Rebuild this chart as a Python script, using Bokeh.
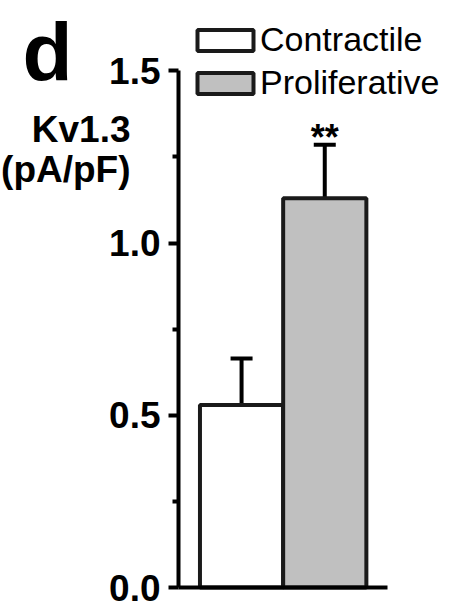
from bokeh.plotting import figure
from bokeh.models import (ColumnDataSource, Range1d, FixedTicker, Whisker, TeeHead,
                          Legend, LegendItem)
from bokeh.core.properties import value
from bokeh.embed import file_html
from bokeh.resources import INLINE

# ---- data ----
groups = ["Contractile", "Proliferative"]
positions = [1, 2]
means = [0.53, 1.13]
sems = [0.135, 0.155]
signif = ["", "**"]
fills = ["#ffffff", "#c0c0c0"]
y_ticks = [0.0, 0.5, 1.0, 1.5]
y_minor = [0.25, 0.75, 1.25]
y_tick_labels = ["0.0", "0.5", "1.0", "1.5"]
panel_letter = "d"
ylabel_lines = ["Kv1.3", "(pA/pF)"]

FONT = "Liberation Sans"
W, H = 450, 613
AXIS_SX, AXIS_SY = 178, 587      # pixel position of the axes' origin
PPX, PPY = 83.2, 344.5           # pixels per data unit
X_AT_AXIS = 0.242                # x value where the y axis sits


def dx(sx):
    return X_AT_AXIS + (sx - AXIS_SX) / PPX


def dy(sy):
    return (AXIS_SY - sy) / PPY


src = ColumnDataSource(dict(
    x=positions, top=means, fill=fills, group=groups, sig=signif,
    upper=[m + s for m, s in zip(means, sems)],
))

p = figure(width=W, height=H, output_backend="svg", toolbar_location=None,
           x_range=Range1d(dx(0), dx(W)), y_range=Range1d(dy(H), dy(0)),
           min_border=0)
p.outline_line_color = None
p.grid.visible = False
p.background_fill_color = "white"
p.border_fill_color = "white"

bars = p.vbar(x="x", top="top", width=1.0, source=src, fill_color="fill",
              line_color="#1a1a1a", line_width=4)

err = Whisker(base="x", lower="top", upper="upper", source=src,
              line_color="black", line_width=4, lower_head=None,
              upper_head=TeeHead(size=22, line_width=4, line_color="black"))
p.add_layout(err)

p.text(x="x", y="upper", text="sig", source=src, text_font=value(FONT),
       text_font_style="bold", text_font_size="36px", text_align="center",
       text_baseline="alphabetic", y_offset=-7, text_color="black")

# panel letter and y-axis title (horizontal, upper left)
p.text(x=[dx(22)], y=[dy(77)], text=[panel_letter], text_font=value(FONT),
       text_font_style="bold", text_font_size="82px", text_align="left",
       text_baseline="alphabetic", y_offset=-26, text_color="black")
p.text(x=[dx(130), dx(130)], y=[dy(140), dy(180)], text=ylabel_lines,
       text_font=value(FONT), text_font_style="bold", text_font_size="37px",
       text_align="right", text_baseline="alphabetic", y_offset=-11,
       text_color="black")

# y axis
ya = p.yaxis[0]
ya.fixed_location = X_AT_AXIS
ya.ticker = FixedTicker(ticks=y_ticks, minor_ticks=y_minor)
ya.major_label_overrides = {t: l for t, l in zip(y_ticks, y_tick_labels)}
ya.bounds = (y_ticks[0], y_ticks[-1])
ya.axis_line_width = 4
ya.major_tick_line_width = 4
ya.minor_tick_line_width = 4
ya.major_tick_in = 0
ya.major_tick_out = 10
ya.minor_tick_in = 0
ya.minor_tick_out = 6
ya.major_label_standoff = 8
ya.major_label_text_font = FONT
ya.major_label_text_font_style = "bold"
ya.major_label_text_font_size = "37px"
ya.major_label_text_color = "black"

# x axis
xa = p.xaxis[0]
xa.fixed_location = 0
xa.ticker = FixedTicker(ticks=[])
xa.major_label_text_font_size = "0px"
xa.major_tick_line_color = None
xa.minor_tick_line_color = None
xa.axis_line_width = 4
xa.bounds = (X_AT_AXIS, positions[-1] + 0.5 + 21 / PPX)

legend = Legend(items=[LegendItem(label=g, renderers=[bars], index=i)
                       for i, g in enumerate(groups)],
                location=(190, 511), glyph_width=70, glyph_height=26,
                label_text_font=FONT, label_text_font_size="34px",
                label_text_color="black",
                label_standoff=0, spacing=4, padding=0, margin=0,
                background_fill_alpha=0, border_line_alpha=0)
p.add_layout(legend)

open("out.html", "w").write(file_html(p, INLINE))
